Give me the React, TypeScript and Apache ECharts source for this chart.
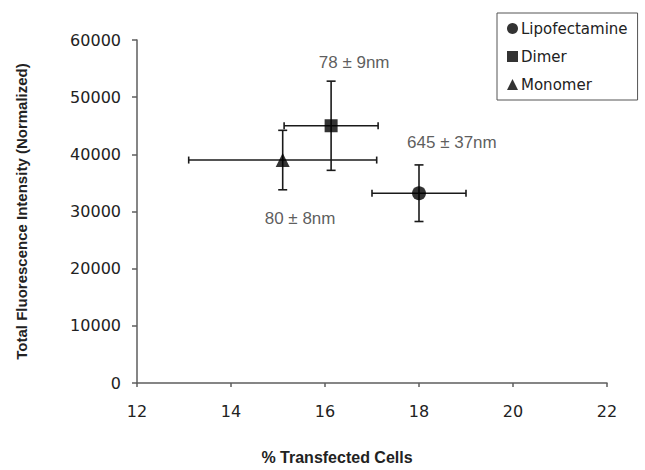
import React, { useEffect, useRef } from "react";
import * as echarts from "echarts";

const seriesNames = ["Lipofectamine", "Dimer", "Monomer"];
const seriesSymbols = ["circle", "rect", "triangle"];
const xValues = [18.0, 16.13, 15.1];
const yValues = [33200, 45000, 39000];
const xErrors = [1.0, 1.0, 2.0];
const yErrors = [4950, 7800, 5200];

const annotationTexts = ["645 ± 37nm", "78 ± 9nm", "80 ± 8nm"];
const annotationX = [18.7, 16.62, 15.47];
const annotationY = [42000, 56150, 28700];

const xTicks = [12, 14, 16, 18, 20, 22];
const yTicks = [0, 10000, 20000, 30000, 40000, 50000, 60000];

export default function App() {
  const ref = useRef<HTMLDivElement>(null);
  useEffect(() => {
    document.body.style.margin = "0";
    const chart = echarts.init(ref.current!, null, { renderer: "svg" });
    const errData = xValues.map((x, i) => [x, yValues[i], xErrors[i], yErrors[i]]);
    const ink = "#1a1a1a";
    const option: any = {
      animation: false,
      backgroundColor: "#ffffff",
      grid: { left: 137, right: 38, top: 40, bottom: 87 },
      xAxis: {
        type: "value",
        min: xTicks[0],
        max: xTicks[xTicks.length - 1],
        interval: 2,
        name: "% Transfected Cells",
        nameLocation: "middle",
        nameGap: 66,
        nameTextStyle: { fontFamily: "Liberation Sans", fontWeight: "bold", fontSize: 16, color: "#222", padding: [0, 70, 0, 0] },
        axisLine: { onZero: false, lineStyle: { color: "#5e5e5e", width: 1.5 } },
        axisTick: { show: true, inside: false, length: 4, lineStyle: { color: "#5e5e5e", width: 1.5 } },
        axisLabel: { margin: 20, fontFamily: "DejaVu Sans", fontSize: 16, color: "#222", formatter: (v: number) => String(v) },
        splitLine: { show: false },
      },
      yAxis: {
        type: "value",
        min: yTicks[0],
        max: yTicks[yTicks.length - 1],
        interval: 10000,
        name: "Total Fluorescence Intensity (Normalized)",
        nameLocation: "middle",
        nameGap: 108,
        nameTextStyle: { fontFamily: "Liberation Sans", fontWeight: "bold", fontSize: 15, color: "#222" },
        axisLine: { show: true, onZero: false, lineStyle: { color: "#5e5e5e", width: 1.5 } },
        axisTick: { show: true, inside: false, length: 5, lineStyle: { color: "#5e5e5e", width: 1.5 } },
        axisLabel: { margin: 16, fontFamily: "DejaVu Sans", fontSize: 16, color: "#222", formatter: (v: number) => String(v) },
        splitLine: { show: false },
      },
      legend: {
        data: seriesNames.map((n, i) => ({ name: n, icon: seriesSymbols[i] })),
        orient: "vertical",
        left: 497,
        top: 13,
        padding: [8, 10, 8, 10],
        itemGap: 13,
        itemWidth: 11,
        itemHeight: 11,
        borderColor: "#555",
        borderWidth: 1,
        backgroundColor: "#fff",
        textStyle: { fontFamily: "DejaVu Sans", fontSize: 15, color: "#222", padding: [0, 0, 0, -2] },
      },
      series: [
        {
          type: "custom",
          name: "errors",
          z: 2,
          silent: true,
          data: errData,
          renderItem: (params: any, api: any) => {
            const x = api.value(0), y = api.value(1), xe = api.value(2), ye = api.value(3);
            const l = api.coord([x - xe, y]);
            const r = api.coord([x + xe, y]);
            const t = api.coord([x, y + ye]);
            const b = api.coord([x, y - ye]);
            const st = { stroke: ink, lineWidth: 1.6 };
            const vc = 4.5, hc = 3.5;
            return {
              type: "group",
              children: [
                { type: "line", shape: { x1: l[0], y1: l[1], x2: r[0], y2: r[1] }, style: st },
                { type: "line", shape: { x1: t[0], y1: t[1], x2: b[0], y2: b[1] }, style: st },
                { type: "line", shape: { x1: l[0], y1: l[1] - hc, x2: l[0], y2: l[1] + hc }, style: st },
                { type: "line", shape: { x1: r[0], y1: r[1] - hc, x2: r[0], y2: r[1] + hc }, style: st },
                { type: "line", shape: { x1: t[0] - vc, y1: t[1], x2: t[0] + vc, y2: t[1] }, style: st },
                { type: "line", shape: { x1: b[0] - vc, y1: b[1], x2: b[0] + vc, y2: b[1] }, style: st },
              ],
            };
          },
        },
        ...seriesNames.map((n, i) => ({
          type: "scatter",
          name: n,
          z: 5,
          symbol: seriesSymbols[i],
          symbolSize: i === 1 ? 13 : 14,
          itemStyle: { color: "#000" },
          data: [[xValues[i], yValues[i]]],
        })),
        {
          type: "scatter",
          name: "annotations",
          z: 6,
          symbolSize: 0,
          silent: true,
          data: annotationTexts.map((t, i) => ({ value: [annotationX[i], annotationY[i]], name: t })),
          label: {
            show: true,
            position: "inside",
            formatter: (p: any) => p.name,
            fontFamily: "Liberation Sans",
            fontSize: 17,
            color: "#333",
          },
        },
      ],
    };
    chart.setOption(option);
    return () => chart.dispose();
  }, []);
  return <div ref={ref} style={{ position: "fixed", left: 0, top: 0, width: 645, height: 470 }} />;
}
